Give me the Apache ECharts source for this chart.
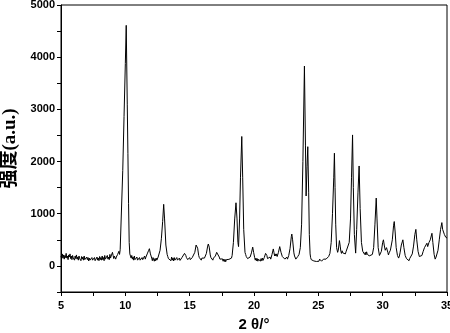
<!DOCTYPE html>
<html>
<head>
<meta charset="utf-8">
<script src="https://cdn.jsdelivr.net/npm/echarts@6/dist/echarts.min.js"></script>
<style>html,body{margin:0;padding:0;background:#fff}#c{width:450px;height:333px}</style>
</head>
<body>
<div id="c"></div>
<script>
// 2θ (degrees), intensity (a.u.)
const seg05to10 = [
[5.0,190],[5.05,140],[5.1,230],[5.15,150],[5.2,210],[5.25,130],[5.3,200],[5.35,160],[5.4,240],[5.45,150],
[5.5,190],[5.55,120],[5.6,210],[5.65,170],[5.7,230],[5.75,140],[5.8,190],[5.85,120],[5.9,200],[5.95,150],
[6.0,180],[6.05,110],[6.1,190],[6.15,140],[6.2,210],[6.25,130],[6.3,170],[6.35,110],[6.4,190],[6.45,140],
[6.5,160],[6.55,100],[6.6,180],[6.65,130],[6.7,170],[6.75,110],[6.8,190],[6.85,120],[6.9,150],[6.95,100],
[7.0,170],[7.05,120],[7.1,160],[7.15,95],[7.2,150],[7.25,110],[7.3,130],[7.35,90],[7.4,160],[7.45,110],
[7.5,140],[7.55,95],[7.6,160],[7.65,100],[7.7,130],[7.75,90],[7.8,170],[7.85,110],[7.9,150],[7.95,100],
[8.0,180],[8.05,120],[8.1,160],[8.15,110],[8.2,190],[8.25,120],[8.3,160],[8.35,100],[8.4,200],[8.45,130],
[8.5,160],[8.55,110],[8.6,200],[8.65,130],[8.7,170],[8.75,120],[8.8,220],[8.85,150],[8.9,190],[8.95,180],
[9.0,260],[9.05,200],[9.1,140],[9.15,190],[9.2,220],[9.25,130],[9.3,170],[9.35,140],[9.4,220],[9.45,190],
[9.5,280],[9.55,220],[9.6,310],[9.65,340],
[9.8,1830],[9.9,2860],[10.0,3880],[10.07,4610]
];
const seg10to15 = [
[10.15,3100],[10.2,2150],[10.25,1200],[10.3,450],[10.35,230],[10.4,210],[10.45,150],[10.5,200],[10.55,130],[10.6,170],
[10.65,110],[10.7,190],[10.75,120],[10.8,150],[10.85,100],[10.9,170],[10.95,110],[11.0,140],[11.05,90],[11.1,160],
[11.15,110],[11.2,130],[11.25,90],[11.3,160],[11.35,120],[11.4,150],[11.45,110],[11.5,190],[11.55,130],[11.6,170],
[11.65,150],[11.7,230],[11.75,220],[11.8,290],[11.87,330],[11.95,230],[12.0,190],[12.05,150],[12.1,100],[12.15,160],
[12.2,130],[12.25,90],[12.3,140],[12.35,100],[12.4,150],[12.45,110],[12.5,130],[12.55,170],[12.6,190],[12.7,300],
[12.8,520],[12.9,850],[12.98,1180],[13.05,900],[13.15,400],[13.25,220],[13.3,180],[13.35,140],[13.4,170],[13.45,110],
[13.5,140],[13.55,100],[13.6,170],[13.65,110],[13.7,150],[13.75,95],[13.8,160],[13.85,110],[13.9,140],[13.95,95],
[14.0,160],[14.05,110],[14.1,145],[14.15,100],[14.2,150],[14.25,105],[14.3,140],[14.35,95],[14.4,160],[14.45,130],
[14.5,180],[14.55,160],[14.6,240],[14.65,270],[14.7,200],[14.75,160],[14.8,180],[14.85,120],[14.9,150],[14.95,110],
[15.0,160]
];
const seg15to20 = [
[15.05,120],[15.1,150],[15.15,115],[15.2,160],[15.25,150],[15.3,190],[15.4,260],[15.5,400],[15.55,425],[15.62,340],
[15.7,200],[15.75,160],[15.8,130],[15.85,160],[15.9,110],[15.95,150],[16.0,120],[16.05,160],[16.1,120],[16.15,150],
[16.2,170],[16.3,240],[16.4,380],[16.45,420],[16.52,360],[16.6,210],[16.65,160],[16.7,130],[16.75,150],[16.8,110],
[16.85,150],[16.9,130],[16.95,170],[17.0,190],[17.1,260],[17.16,295],[17.22,250],[17.3,170],[17.35,130],[17.4,100],
[17.45,140],[17.5,95],[17.55,135],[17.6,90],[17.65,130],[17.7,85],[17.75,125],[17.8,80],[17.85,120],[17.9,90],
[17.95,130],[18.0,85],[18.05,125],[18.1,90],[18.15,140],[18.2,110],[18.25,150],[18.3,200],[18.4,450],[18.5,900],
[18.6,1210],[18.68,900],[18.75,450],[18.8,370],[18.88,900],[18.95,1700],[19.05,2480],[19.12,1700],[19.2,700],[19.3,260],
[19.35,220],[19.4,180],[19.45,200],[19.5,140],[19.55,170],[19.6,120],[19.65,160],[19.7,170],[19.8,250],[19.9,360],
[19.97,260]
];
const seg20to25 = [
[20.05,160],[20.1,110],[20.15,150],[20.2,100],[20.25,140],[20.3,90],[20.35,130],[20.4,95],[20.45,135],[20.5,90],
[20.55,140],[20.6,100],[20.65,150],[20.7,105],[20.75,140],[20.8,160],[20.9,240],[20.94,275],[21.0,200],[21.05,140],
[21.1,110],[21.15,150],[21.2,120],[21.25,170],[21.3,130],[21.4,220],[21.5,325],[21.55,260],[21.6,190],[21.65,230],
[21.7,190],[21.75,230],[21.8,180],[21.9,260],[22.0,370],[22.03,385],[22.1,260],[22.15,230],[22.2,180],[22.25,200],
[22.3,150],[22.35,170],[22.4,130],[22.45,160],[22.5,140],[22.55,170],[22.6,130],[22.7,200],[22.8,330],[22.9,560],
[22.94,610],[23.0,500],[23.1,250],[23.15,190],[23.2,160],[23.25,130],[23.3,160],[23.35,130],[23.4,180],[23.5,220],
[23.6,350],[23.7,800],[23.8,2000],[23.92,3830],[24.0,2300],[24.05,1340],[24.12,1900],[24.18,2285],[24.25,1400],[24.3,600],
[24.36,230],[24.4,160],[24.45,120],[24.5,140],[24.55,100],[24.6,130],[24.65,95],[24.7,125],[24.75,90],[24.8,120],
[24.85,85],[24.9,120],[24.95,90],[25.0,115]
];
const seg25to30 = [
[25.05,90],[25.1,130],[25.15,95],[25.2,120],[25.25,90],[25.3,125],[25.35,95],[25.4,130],[25.45,100],[25.5,140],
[25.55,110],[25.6,130],[25.65,120],[25.7,150],[25.8,180],[25.9,240],[26.0,450],[26.1,1000],[26.2,1700],[26.25,2160],
[26.3,1500],[26.35,800],[26.42,350],[26.5,260],[26.55,300],[26.64,485],[26.7,380],[26.75,280],[26.8,240],[26.85,290],
[26.9,250],[26.95,280],[27.0,220],[27.05,260],[27.1,230],[27.15,270],[27.2,240],[27.3,300],[27.4,450],[27.5,900],
[27.58,1700],[27.66,2510],[27.72,1500],[27.8,600],[27.9,245],[27.98,700],[28.08,1400],[28.17,1915],[28.25,1100],[28.35,450],
[28.45,280],[28.5,305],[28.55,250],[28.6,220],[28.65,260],[28.7,210],[28.75,270],[28.8,230],[28.85,260],[28.9,250],
[28.95,190],[29.0,170],[29.05,200],[29.1,160],[29.2,220],[29.3,350],[29.4,800],[29.5,1300],[29.56,900],[29.65,350],
[29.75,200],[29.8,180],[29.9,280],[30.0,450]
];
const seg30to35 = [
[30.06,500],[30.12,400],[30.2,300],[30.3,350],[30.4,260],[30.45,210],[30.5,250],[30.6,300],[30.75,500],[30.85,780],
[30.9,850],[30.97,650],[31.05,350],[31.15,200],[31.2,180],[31.24,150],[31.3,190],[31.35,250],[31.45,400],[31.57,500],
[31.65,350],[31.75,200],[31.8,170],[31.85,140],[31.9,160],[31.95,110],[32.0,130],[32.05,100],[32.1,140],[32.2,160],
[32.3,230],[32.4,380],[32.5,600],[32.58,700],[32.65,500],[32.75,280],[32.85,180],[32.92,150],[33.0,180],[33.05,200],
[33.15,280],[33.25,350],[33.35,330],[33.44,435],[33.5,370],[33.6,450],[33.7,500],[33.83,625],[33.9,450],[34.0,220],
[34.08,130],[34.15,170],[34.2,200],[34.3,300],[34.4,500],[34.5,700],[34.6,830],[34.66,700],[34.73,720],[34.8,600],
[34.9,550],[35.0,535]
];
const xTicks = [5, 10, 15, 20, 25, 30, 35];
const yTickLabels = [0, 1000, 2000, 3000, 4000, 5000];

const pattern = [].concat(seg05to10, seg10to15, seg15to20, seg20to25, seg25to30, seg30to35);

const chart = echarts.init(document.getElementById('c'), null, {renderer: 'canvas'});
const labelFont = {color: '#000', fontWeight: 'bold', fontSize: 11, fontFamily: '"Liberation Sans", Arial, sans-serif'};
chart.setOption({
  animation: false,
  backgroundColor: '#fff',
  grid: {left: 61, right: 3, top: 5, bottom: 41, show: true, borderColor: '#000', borderWidth: 1,
         containLabel: false, outerBoundsMode: 'none'},
  xAxis: {
    type: 'value', min: xTicks[0], max: xTicks[xTicks.length - 1], interval: 5,
    name: '2 θ/°', nameLocation: 'middle', nameGap: 25,
    nameTextStyle: {color: '#000', fontWeight: 'bold', fontSize: 15, fontFamily: '"Liberation Sans", Arial, sans-serif'},
    axisLine: {onZero: false, lineStyle: {color: '#000', width: 1}},
    axisTick: {show: true, inside: false, length: 4, lineStyle: {color: '#000'}},
    minorTick: {show: true, splitNumber: 2, length: 4, lineStyle: {color: '#000'}},
    axisLabel: Object.assign({margin: 8}, labelFont),
    splitLine: {show: false}
  },
  yAxis: {
    type: 'value', min: -500, max: 5000, interval: 500,
    name: '强度(a.u.)', nameLocation: 'middle', nameGap: 36, nameRotate: 90,
    nameTextStyle: {color: '#000', fontWeight: 'bold', fontSize: 19, fontFamily: '"Liberation Serif", "Noto Sans CJK SC", serif'},
    axisLine: {show: true, lineStyle: {color: '#000', width: 1}},
    axisTick: {show: true, inside: false, length: 4, lineStyle: {color: '#000'}},
    axisLabel: Object.assign({
      margin: 6,
      formatter: function (v) { return yTickLabels.indexOf(v) >= 0 ? String(v) : ''; }
    }, labelFont),
    splitLine: {show: false}
  },
  series: [{
    type: 'line', data: pattern, showSymbol: false, symbol: 'none',
    lineStyle: {color: '#000', width: 1}, silent: true
  }]
});
</script>
</body>
</html>
